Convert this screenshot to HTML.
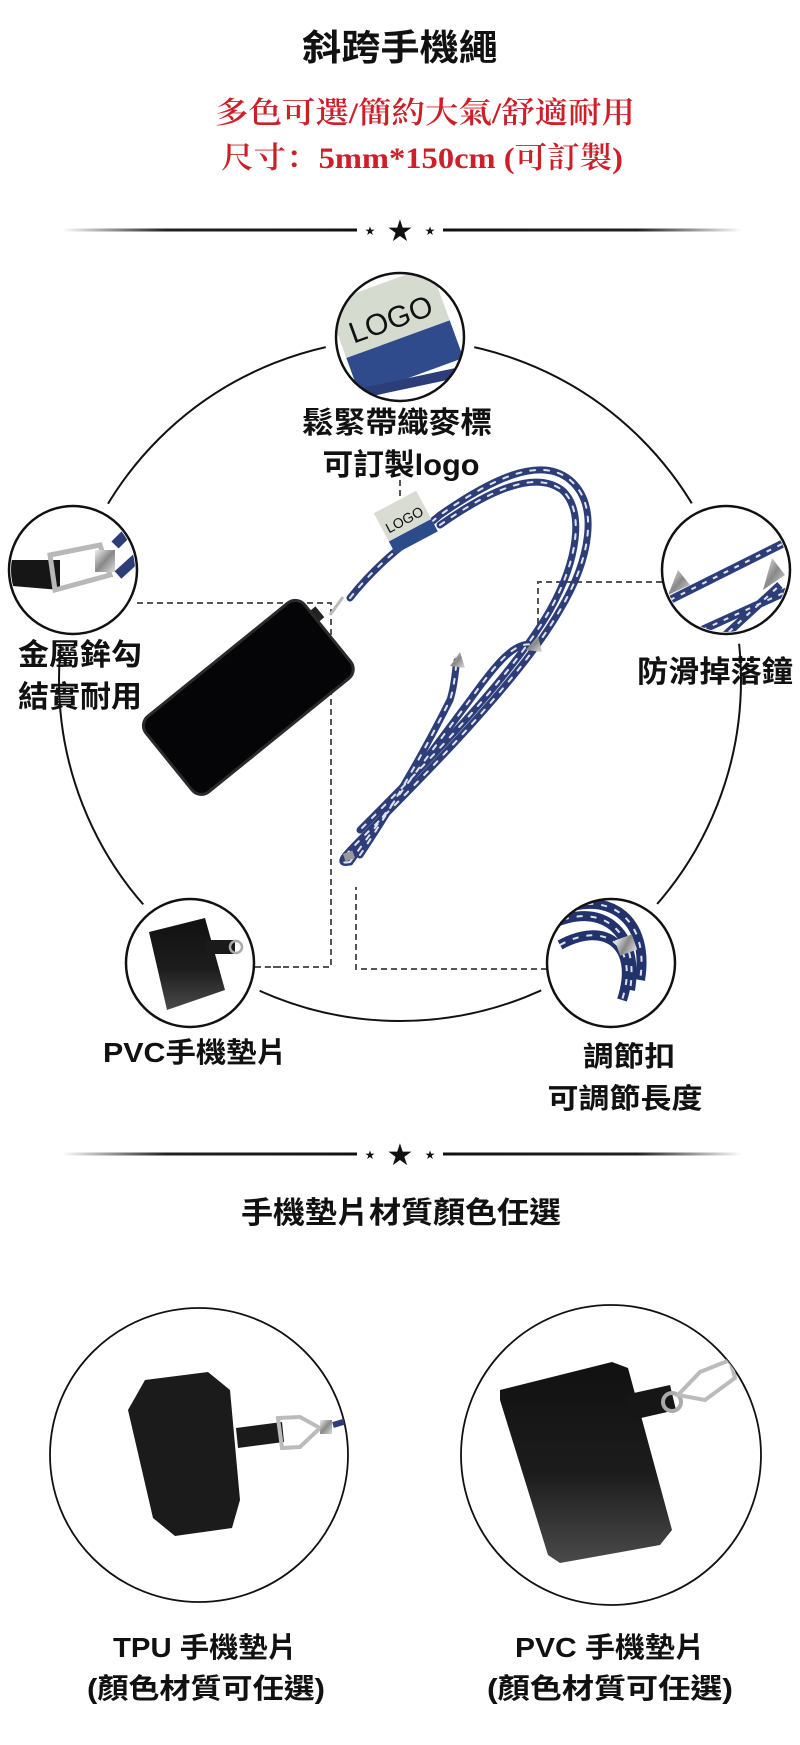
<!DOCTYPE html>
<html><head><meta charset="utf-8"><style>
html,body{margin:0;padding:0;background:#fff;}
svg{display:block;}
.b{font-family:"Liberation Sans","Noto Sans CJK TC",sans-serif;font-weight:700;fill:#111;}
.r{font-family:"Liberation Serif","Noto Serif CJK SC",serif;fill:#cc1f28;font-weight:600;}
</style></head><body>
<svg width="800" height="1745" viewBox="0 0 800 1745" xmlns="http://www.w3.org/2000/svg">
<defs>
<linearGradient id="lg" x1="0" x2="1"><stop offset="0" stop-color="#fff"/><stop offset="0.35" stop-color="#222"/><stop offset="1" stop-color="#111"/></linearGradient>
<linearGradient id="rg" x1="0" x2="1"><stop offset="0" stop-color="#111"/><stop offset="0.65" stop-color="#222"/><stop offset="1" stop-color="#fff"/></linearGradient>
<linearGradient id="pvc" x1="0" y1="0" x2="0" y2="1"><stop offset="0" stop-color="#111"/><stop offset="0.55" stop-color="#1c1c1c"/><stop offset="1" stop-color="#4a4a4a"/></linearGradient>
<linearGradient id="met" x1="0" y1="0" x2="1" y2="1"><stop offset="0" stop-color="#eee"/><stop offset="0.5" stop-color="#888"/><stop offset="1" stop-color="#ddd"/></linearGradient>
<clipPath id="c1"><circle cx="400" cy="337" r="63"/></clipPath>
<clipPath id="c2"><circle cx="73" cy="570" r="62"/></clipPath>
<clipPath id="c3"><circle cx="726" cy="570" r="62"/></clipPath>
<clipPath id="c4"><circle cx="190" cy="963" r="63"/></clipPath>
<clipPath id="c5"><circle cx="611" cy="963" r="63"/></clipPath>
<clipPath id="c6"><ellipse cx="611" cy="1455" rx="150" ry="150"/></clipPath>
<clipPath id="c7"><ellipse cx="199" cy="1455" rx="149" ry="147"/></clipPath>
</defs>

<text class="b" x="400" y="60" font-size="36" text-anchor="middle" font-weight="900" textLength="196" lengthAdjust="spacingAndGlyphs">斜跨手機繩</text>
<text class="r" x="425" y="123" font-size="30" text-anchor="middle" textLength="420" lengthAdjust="spacingAndGlyphs">多色可選/簡約大氣/舒適耐用</text>
<text class="r" x="422" y="168" font-size="30" text-anchor="middle" textLength="402" lengthAdjust="spacingAndGlyphs">尺寸：5mm*150cm (可訂製)</text>

<rect x="62" y="228.5" width="295" height="3" fill="url(#lg)"/>
<rect x="443" y="228.5" width="299" height="3" fill="url(#rg)"/>
<text x="370" y="235" font-size="12" text-anchor="middle" fill="#111" font-family="DejaVu Sans">★</text>
<text x="430" y="235" font-size="12" text-anchor="middle" fill="#111" font-family="DejaVu Sans">★</text>
<text x="400" y="241" font-size="30" text-anchor="middle" fill="#111" font-family="DejaVu Sans">★</text>

<circle cx="400" cy="680" r="341" fill="none" stroke="#111" stroke-width="2"/>

<g fill="none" stroke="#555" stroke-width="2" stroke-dasharray="6,4">
<path d="M137 603 H331 V967 H255"/>
<path d="M400 480 V533"/>
<path d="M662 582 H538 V648"/>
<path d="M547 969 H356 V887"/>
</g>

<g fill="none" stroke-linecap="round">
<g stroke="#2c3d78" stroke-width="7">
<path d="M350 598 C380 560 410 540 440 515 C490 480 540 455 570 480 C600 505 590 560 560 610 C520 680 420 780 365 835 C345 855 335 865 350 862"/>
<path d="M440 525 C490 490 535 470 562 490 C585 510 578 560 550 610 C510 680 410 780 360 830"/>
<path d="M350 862 C380 820 440 740 470 700 C495 665 515 640 533 645"/>
<path d="M360 855 C390 810 420 760 450 700 C455 685 455 670 457 661"/>
</g>
<g stroke="#dfe3ee" stroke-width="2" stroke-dasharray="5,9">
<path d="M350 598 C380 560 410 540 440 515 C490 480 540 455 570 480 C600 505 590 560 560 610 C520 680 420 780 365 835 C345 855 335 865 350 862"/>
<path d="M440 525 C490 490 535 470 562 490 C585 510 578 560 550 610 C510 680 410 780 360 830"/>
<path d="M350 862 C380 820 440 740 470 700 C495 665 515 640 533 645"/>
<path d="M360 855 C390 810 420 760 450 700 C455 685 455 670 457 661"/>
</g>
</g>
<polygon points="526,650 538,636 542,652" fill="url(#met)"/>
<polygon points="450,666 460,652 465,668" fill="url(#met)"/>
<rect x="344" y="852" width="10" height="8" fill="#999" transform="rotate(-20 349 856)"/>
<g transform="rotate(-28 405 525)">
<rect x="383" y="500" width="48" height="44" fill="#d8dcd2"/>
<rect x="383" y="532" width="48" height="14" fill="#2c4b8a"/>
<text x="407" y="525" font-size="14" text-anchor="middle" font-family="Liberation Sans" fill="#111">LOGO</text>
</g>
<path d="M343 597 L330 615" stroke="#bbb" stroke-width="3"/>
<rect x="311" y="608" width="10" height="14" fill="#222" transform="rotate(-39 316 615)"/>
<rect x="146" y="649" width="204" height="97" rx="12" fill="#050508" stroke="#2a2a2a" stroke-width="3" transform="rotate(-39 248 697)"/>

<g fill="#fff">
<circle cx="400" cy="337" r="75"/><circle cx="73" cy="570" r="75"/><circle cx="726" cy="570" r="75"/>
<circle cx="190" cy="963" r="75"/><circle cx="611" cy="963" r="75"/>
</g>
<g fill="none" stroke="#555" stroke-width="2" stroke-dasharray="6,4">
<path d="M137 603 H170"/><path d="M255 967 H285"/><path d="M547 969 H520"/><path d="M662 582 H630"/><path d="M400 480 V500"/>
</g>

<g clip-path="url(#c1)">
<g transform="rotate(-20 400 330)">
<rect x="340" y="280" width="110" height="60" fill="#d6dbd0"/>
<rect x="340" y="338" width="110" height="40" fill="#2f4b8c"/>
<text x="395" y="327" font-size="30" text-anchor="middle" font-family="Liberation Sans" fill="#111">LOGO</text>
</g>
<path d="M330 400 L470 370" stroke="#2c3d78" stroke-width="10"/>
</g>
<circle cx="400" cy="337" r="64" fill="none" stroke="#111" stroke-width="2.5"/>

<g clip-path="url(#c2)">
<path d="M0 560 L60 560 L60 590 L0 585Z" fill="#161616"/>
<path d="M50 555 L100 545 L110 575 L55 590Z" fill="none" stroke="#b8b8b8" stroke-width="5"/>
<rect x="95" y="550" width="20" height="22" fill="url(#met)"/>
<path d="M115 545 L140 520 M118 575 L140 555" stroke="#2c3d78" stroke-width="10"/>
</g>
<circle cx="73" cy="570" r="64" fill="none" stroke="#111" stroke-width="2.5"/>

<g clip-path="url(#c3)">
<g stroke="#2c3d78" stroke-width="8">
<path d="M670 600 L790 540"/><path d="M680 640 L790 590"/><path d="M720 640 L780 585"/>
</g>
<g stroke="#dfe3ee" stroke-width="2" stroke-dasharray="5,7">
<path d="M670 600 L790 540"/><path d="M680 640 L790 590"/><path d="M720 640 L780 585"/>
</g>
<polygon points="668,595 678,570 690,585" fill="url(#met)"/>
<polygon points="763,590 772,558 785,575" fill="url(#met)"/>
</g>
<circle cx="726" cy="570" r="64" fill="none" stroke="#111" stroke-width="2.5"/>

<g clip-path="url(#c4)">
<polygon points="149,932 205,918 225,990 167,1010" fill="url(#pvc)"/>
<rect x="205" y="940" width="30" height="14" fill="#1a1a1a"/>
<circle cx="236" cy="947" r="6" fill="none" stroke="#aaa" stroke-width="2.5"/>
</g>
<circle cx="190" cy="963" r="64" fill="none" stroke="#111" stroke-width="2.5"/>

<g clip-path="url(#c5)">
<g stroke="#22336b" stroke-width="10" fill="none">
<path d="M550 925 C600 900 640 930 630 990"/><path d="M560 945 C605 920 640 945 622 1000"/><path d="M560 910 C610 890 650 920 640 980"/>
</g>
<g stroke="#dfe3ee" stroke-width="2" stroke-dasharray="6,8" fill="none">
<path d="M550 925 C600 900 640 930 630 990"/><path d="M560 945 C605 920 640 945 622 1000"/><path d="M560 910 C610 890 650 920 640 980"/>
</g>
<rect x="617" y="937" width="18" height="16" fill="url(#met)" transform="rotate(-20 626 945)"/>
</g>
<circle cx="611" cy="963" r="64" fill="none" stroke="#111" stroke-width="2.5"/>

<g class="b" font-size="30">
<text x="397" y="433" text-anchor="middle" textLength="190" lengthAdjust="spacingAndGlyphs">鬆緊帶織麥標</text>
<text x="401" y="475" text-anchor="middle" textLength="157" lengthAdjust="spacingAndGlyphs">可訂製logo</text>
<text x="80" y="665" text-anchor="middle" textLength="124" lengthAdjust="spacingAndGlyphs">金屬鉾勾</text>
<text x="80" y="707" text-anchor="middle" textLength="124" lengthAdjust="spacingAndGlyphs">結實耐用</text>
<text x="715" y="682" text-anchor="middle" textLength="156" lengthAdjust="spacingAndGlyphs">防滑掉落鐘</text>
<text x="195" y="1062" text-anchor="middle" font-size="28" textLength="184" lengthAdjust="spacingAndGlyphs">PVC手機墊片</text>
<text x="629" y="1066" text-anchor="middle" font-size="28" textLength="92" lengthAdjust="spacingAndGlyphs">調節扣</text>
<text x="625" y="1108" text-anchor="middle" font-size="28" textLength="155" lengthAdjust="spacingAndGlyphs">可調節長度</text>
</g>

<rect x="62" y="1152.5" width="295" height="3" fill="url(#lg)"/>
<rect x="443" y="1152.5" width="299" height="3" fill="url(#rg)"/>
<text x="370" y="1159" font-size="12" text-anchor="middle" fill="#111" font-family="DejaVu Sans">★</text>
<text x="430" y="1159" font-size="12" text-anchor="middle" fill="#111" font-family="DejaVu Sans">★</text>
<text x="400" y="1165" font-size="30" text-anchor="middle" fill="#111" font-family="DejaVu Sans">★</text>

<text class="b" x="401" y="1223" font-size="30" text-anchor="middle" textLength="320" lengthAdjust="spacingAndGlyphs">手機墊片材質顏色任選</text>

<ellipse cx="199" cy="1455" rx="149" ry="147" fill="none" stroke="#111" stroke-width="1.8"/>
<g clip-path="url(#c7)">
<polygon points="128,1410 145,1380 208,1372 230,1390 240,1500 232,1528 175,1536 153,1518" fill="#1b1b1b"/>
<polygon points="236,1428 282,1422 284,1442 238,1448" fill="#1b1b1b"/>
<path d="M278 1418 L300 1417 L320 1428 L300 1447 L282 1448Z" fill="none" stroke="#bbb" stroke-width="4"/>
<rect x="320" y="1420" width="12" height="14" fill="url(#met)"/>
<path d="M333 1425 L350 1420" stroke="#2c3d78" stroke-width="6"/>
</g>

<ellipse cx="611" cy="1455" rx="150" ry="150" fill="none" stroke="#111" stroke-width="1.8"/>
<g clip-path="url(#c6)">
<polygon points="500,1390 612,1362 628,1368 672,1530 660,1545 560,1563 548,1555 500,1400" fill="url(#pvc)"/>
<polygon points="625,1395 670,1385 676,1410 632,1420" fill="#161616"/>
<circle cx="672" cy="1402" r="9" fill="none" stroke="#aaa" stroke-width="4"/>
<path d="M678 1395 L700 1372 L730 1360 L735 1378 L705 1400Z" fill="none" stroke="#bbb" stroke-width="4"/>
<path d="M730 1362 L760 1345" stroke="#888" stroke-width="5"/>
</g>

<g class="b" font-size="28">
<text x="205" y="1657" text-anchor="middle" textLength="184" lengthAdjust="spacingAndGlyphs">TPU 手機墊片</text>
<text x="206" y="1698" text-anchor="middle" textLength="238" lengthAdjust="spacingAndGlyphs">(顏色材質可任選)</text>
<text x="610" y="1657" text-anchor="middle" textLength="190" lengthAdjust="spacingAndGlyphs">PVC 手機墊片</text>
<text x="610" y="1698" text-anchor="middle" textLength="246" lengthAdjust="spacingAndGlyphs">(顏色材質可任選)</text>
</g>
</svg>
</body></html>
